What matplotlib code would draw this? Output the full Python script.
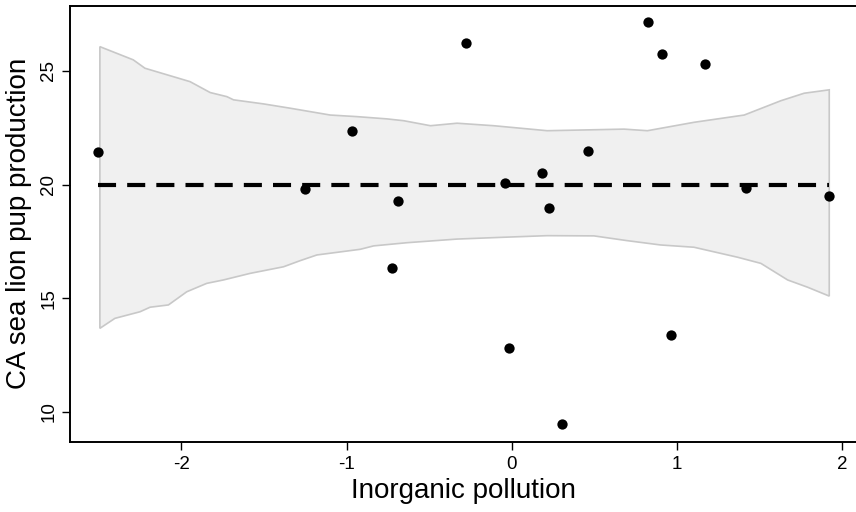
import matplotlib
matplotlib.use("Agg")
import matplotlib.pyplot as plt
import numpy as np

plt.rcParams['font.family'] = ['Liberation Sans', 'DejaVu Sans']
plt.rcParams['lines.scale_dashes'] = False

# Observed points
pollution = [-2.506, -1.250, -0.966, -0.723, -0.687, -0.274, -0.038, -0.019,
             0.181, 0.223, 0.302, 0.460, 0.824, 0.909, 0.963, 1.171, 1.417, 1.924]
pups = [21.44, 19.81, 22.36, 16.33, 19.28, 26.24, 20.07, 12.80,
        20.51, 18.97, 9.46, 21.48, 27.16, 25.75, 13.39, 25.31, 19.86, 19.50]

# Fitted (flat) line
fit_level = 20.0

# Confidence band: upper edge
upper_x = [-2.494, -2.292, -2.221, -1.948, -1.826, -1.725, -1.685, -1.503, -1.341,
           -1.099, -0.937, -0.755, -0.654, -0.492, -0.331, -0.109, 0.215, 0.417,
           0.680, 0.822, 1.104, 1.408, 1.630, 1.771, 1.923]
upper_y = [26.07, 25.49, 25.12, 24.53, 24.05, 23.87, 23.73, 23.55, 23.36,
           23.06, 22.99, 22.89, 22.81, 22.59, 22.70, 22.59, 22.37, 22.40,
           22.44, 22.37, 22.74, 23.06, 23.69, 24.02, 24.17]
# Confidence band: lower edge
lower_x = [-2.494, -2.403, -2.251, -2.190, -2.079, -1.968, -1.847, -1.746, -1.584,
           -1.382, -1.281, -1.180, -0.917, -0.836, -0.634, -0.331, -0.048, 0.215,
           0.498, 0.700, 0.902, 1.104, 1.368, 1.509, 1.671, 1.792, 1.923]
lower_y = [13.67, 14.11, 14.40, 14.60, 14.70, 15.28, 15.65, 15.80, 16.09,
           16.38, 16.65, 16.90, 17.15, 17.30, 17.44, 17.60, 17.68, 17.75,
           17.74, 17.53, 17.34, 17.24, 16.80, 16.53, 15.80, 15.48, 15.09]

xticks = [-2, -1, 0, 1, 2]
yticks = [10, 15, 20, 25]

fig = plt.figure(figsize=(8.56, 5.12), dpi=100)
ax = fig.add_axes([70/856, 1-441.7/512, 1 - 70/856, (441.7-6)/512])

poly_x = list(upper_x) + list(lower_x[::-1])
poly_y = list(upper_y) + list(lower_y[::-1])
ax.fill(poly_x, poly_y, facecolor='#f0f0f0', edgecolor='#c8c8c8', linewidth=1.2, zorder=1)

ax.plot([min(pollution), max(pollution)], [fit_level, fit_level], color='black',
        linewidth=3.0, dashes=(13, 8), zorder=2)

ax.scatter(pollution, pups, s=55, color='black', zorder=3, linewidths=0)

ax.set_xlim(-2.675, 2.085)
ax.set_ylim(8.68, 27.86)
ax.set_xticks(xticks)
ax.set_xticklabels([str(t) for t in xticks])
ax.set_yticks(yticks)
ax.set_yticklabels([str(t) for t in yticks], rotation=90, va='center')

ax.tick_params(axis='both', labelsize=13.5, length=6, width=1.0, direction='out')
ax.tick_params(axis='x', pad=4)
ax.tick_params(axis='y', pad=3)

for side in ['left', 'bottom', 'top']:
    ax.spines[side].set_linewidth(1.4)
ax.spines['right'].set_visible(False)

ax.set_xlabel('Inorganic pollution', fontsize=20, labelpad=4)
ax.set_ylabel('CA sea lion pup production', fontsize=20, labelpad=6)

fig.savefig('out.png', dpi=100)
